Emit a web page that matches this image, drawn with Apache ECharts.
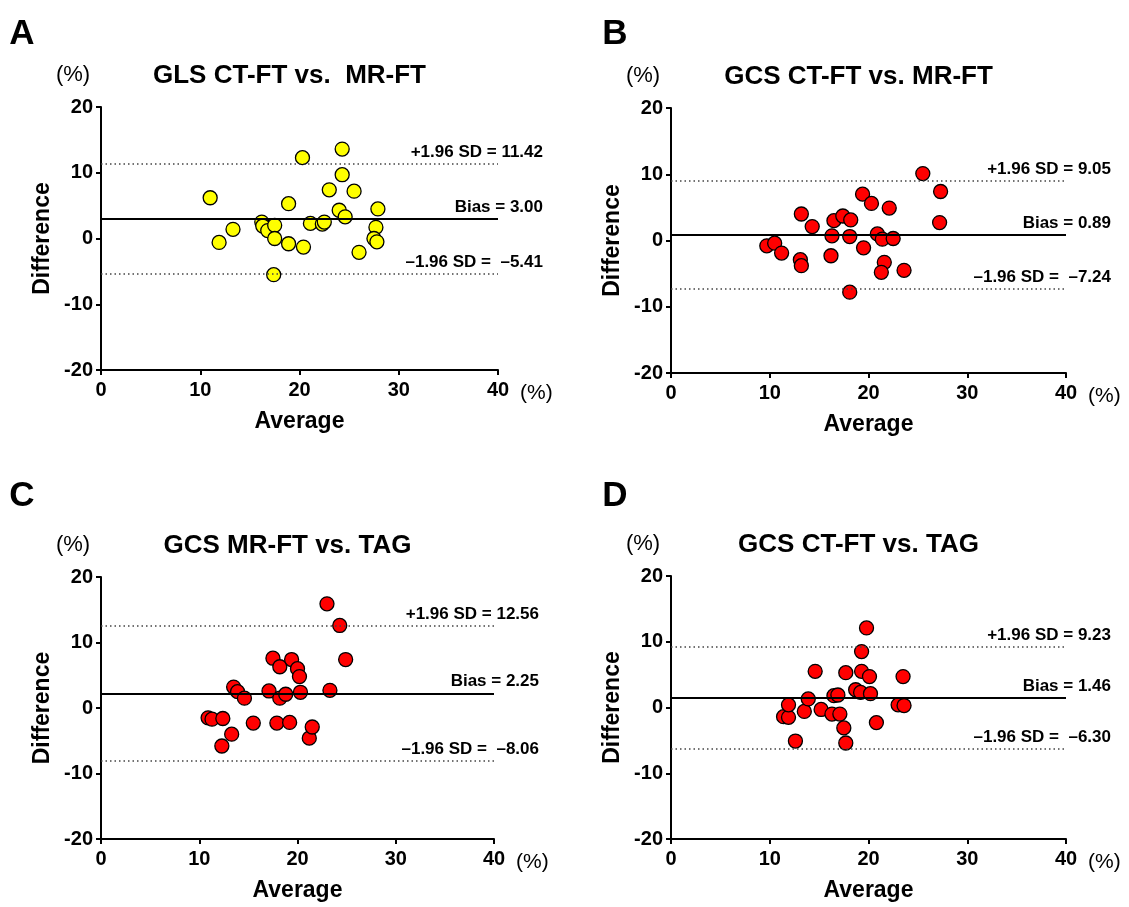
<!DOCTYPE html>
<html>
<head>
<meta charset="utf-8">
<script src="https://cdn.jsdelivr.net/npm/echarts@6/dist/echarts.min.js"></script>
<style>
html, body { margin: 0; padding: 0; background: #fff; }
#blandAltman { width: 1129px; height: 907px; }
</style>
</head>
<body>
<div id="blandAltman"></div>
<script>
// panel A: GLS CT-FT vs MR-FT
const avgA = [11.0, 11.9, 13.3, 16.2, 16.3, 16.8, 17.5, 17.5, 17.4, 18.9, 18.9, 20.3, 20.4, 21.1, 22.3, 22.5, 23.0, 24.0, 24.3, 24.3, 24.6, 25.5, 26.0, 27.9, 27.7, 27.5, 27.8]
const diffA = [6.2, -0.6, 1.4, 2.5, 1.9, 1.2, 2.0, 0.0, -5.5, 5.3, -0.8, 12.3, -1.3, 2.3, 2.2, 2.5, 7.4, 4.3, 13.6, 9.7, 3.3, 7.2, -2.1, 4.5, 1.7, 0.0, -0.5]
// panel B: GCS CT-FT vs MR-FT
const avgB = [9.7, 10.5, 11.2, 13.2, 13.1, 13.2, 14.3, 16.3, 16.2, 16.5, 17.4, 18.2, 18.1, 18.1, 19.4, 19.5, 20.3, 20.9, 21.4, 21.6, 21.3, 22.1, 22.5, 23.6, 25.5, 27.3, 27.2]
const diffB = [-0.8, -0.4, -1.9, 4.0, -2.9, -3.8, 2.1, 0.7, -2.3, 3.0, 3.7, 3.1, 0.6, -7.8, 7.0, -1.1, 5.6, 1.0, 0.2, -3.3, -4.8, 4.9, 0.3, -4.5, 10.1, 7.4, 2.7]
// panel C: GCS MR-FT vs TAG
const avgC = [10.9, 11.3, 12.4, 12.3, 13.3, 13.5, 13.9, 14.6, 15.5, 17.1, 17.5, 17.9, 18.2, 18.2, 18.8, 19.2, 19.4, 20.0, 20.2, 20.3, 21.2, 21.5, 23.0, 23.3, 24.3, 24.9]
const diffC = [-1.5, -1.7, -1.6, -5.8, -4.0, 3.2, 2.5, 1.5, -2.3, 2.6, 7.6, -2.3, 1.5, 6.3, 2.1, -2.2, 7.4, 6.0, 4.8, 2.4, -4.6, -2.9, 15.9, 2.7, 12.6, 7.4]
// panel D: GCS CT-FT vs TAG
const avgD = [11.4, 11.9, 11.9, 12.6, 13.5, 13.9, 14.6, 15.2, 16.3, 16.5, 16.9, 17.1, 17.5, 17.7, 17.7, 18.7, 19.2, 19.3, 19.3, 19.8, 20.1, 20.2, 20.8, 23.0, 23.6, 23.5]
const diffD = [-1.4, -1.5, 0.4, -5.1, -0.6, 1.3, 5.5, -0.3, -1.0, 1.8, 1.9, -1.0, -3.1, -5.4, 5.3, 2.7, 2.3, 8.5, 5.5, 12.1, 4.7, 2.1, -2.3, 0.4, 0.3, 4.7]

const titles = ['GLS CT-FT vs.  MR-FT', 'GCS CT-FT vs. MR-FT', 'GCS MR-FT vs. TAG', 'GCS CT-FT vs. TAG']
const letters = ['A', 'B', 'C', 'D']
const biasList = [3.00, 0.89, 2.25, 1.46]
const upperList = [11.42, 9.05, 12.56, 9.23]
const lowerList = [-5.41, -7.24, -8.06, -6.30]
const xTicks = [0, 40, 10]   // min, max, interval
const yTicks = [-20, 20, 10]

const font = 'Liberation Sans, Arial, Helvetica, sans-serif'
const grids = [
  {left: 101, top: 107, width: 397, height: 263},
  {left: 671, top: 108, width: 395, height: 265},
  {left: 101, top: 577, width: 393, height: 262},
  {left: 671, top: 576, width: 395, height: 263}
]
const fills = ['#ffff00', '#ff0000', '#ff0000', '#ff0000']
const avgs = [avgA, avgB, avgC, avgD]
const diffs = [diffA, diffB, diffC, diffD]

const axisStyle = {
  axisLine: {onZero: false, lineStyle: {color: '#000', width: 2}},
  axisTick: {length: 5, lineStyle: {color: '#000', width: 2}},
  splitLine: {show: false},
  axisLabel: {color: '#000', fontSize: 20, fontWeight: 'bold', fontFamily: font}
}

const refLine = (val, text, solid) => ({
  yAxis: val,
  lineStyle: solid ? {type: 'solid', color: '#000', width: 2} : {type: [1.5, 3], color: '#444', width: 1.5},
  label: {formatter: text}
})

const graphics = []
grids.forEach((g, i) => {
  graphics.push({type: 'text', x: i % 2 ? 615 : 22, y: i < 2 ? 34 : 496,
    style: {text: letters[i], font: 'bold 35px ' + font, fill: '#000', textAlign: 'center', textVerticalAlign: 'middle'}})
  graphics.push({type: 'text', x: g.left + g.width / 2 - 10, y: g.top - 31,
    style: {text: titles[i], font: 'bold 26px ' + font, fill: '#000', textAlign: 'center', textVerticalAlign: 'middle'}})
  graphics.push({type: 'text', x: g.left - 28, y: g.top - 32,
    style: {text: '(%)', font: '22px ' + font, fill: '#000', textAlign: 'center', textVerticalAlign: 'middle'}})
  graphics.push({type: 'text', x: g.left + g.width + 22, y: g.top + g.height + 23,
    style: {text: '(%)', font: '21px ' + font, fill: '#000', textAlign: 'left', textVerticalAlign: 'middle'}})
})

const option = {
  animation: false,
  backgroundColor: '#fff',
  grid: grids,
  graphic: graphics,
  xAxis: grids.map((g, i) => Object.assign({}, axisStyle, {
    type: 'value', gridIndex: i, min: xTicks[0], max: xTicks[1], interval: xTicks[2],
    name: 'Average', nameLocation: 'middle', nameGap: 40,
    nameTextStyle: {color: '#000', fontSize: 23, fontWeight: 'bold', fontFamily: font},
    axisLabel: Object.assign({}, axisStyle.axisLabel, {margin: 10})
  })),
  yAxis: grids.map((g, i) => Object.assign({}, axisStyle, {
    type: 'value', gridIndex: i, min: yTicks[0], max: yTicks[1], interval: yTicks[2],
    name: 'Difference', nameLocation: 'middle', nameGap: 47, nameRotate: 90,
    nameTextStyle: {color: '#000', fontSize: 23, fontWeight: 'bold', fontFamily: font},
    axisLabel: Object.assign({}, axisStyle.axisLabel, {margin: 8})
  })),
  series: grids.map((g, i) => ({
    type: 'scatter',
    xAxisIndex: i,
    yAxisIndex: i,
    symbolSize: 14,
    itemStyle: {color: fills[i], borderColor: '#000', borderWidth: 1.3, opacity: 1},
    data: avgs[i].map((x, k) => [x, diffs[i][k]]),
    markLine: {
      silent: true,
      symbol: ['none', 'none'],
      label: {position: 'insideEndTop', distance: [-45, 3], color: '#000', fontSize: 17, fontWeight: 'bold', fontFamily: font},
      data: [
        refLine(upperList[i], '+1.96 SD = ' + upperList[i].toFixed(2), false),
        refLine(biasList[i], 'Bias = ' + biasList[i].toFixed(2), true),
        refLine(lowerList[i], '\u20131.96 SD =  \u2013' + Math.abs(lowerList[i]).toFixed(2), false)
      ]
    }
  }))
}

const chart = echarts.init(document.getElementById('blandAltman'))
chart.setOption(option)
</script>
</body>
</html>
